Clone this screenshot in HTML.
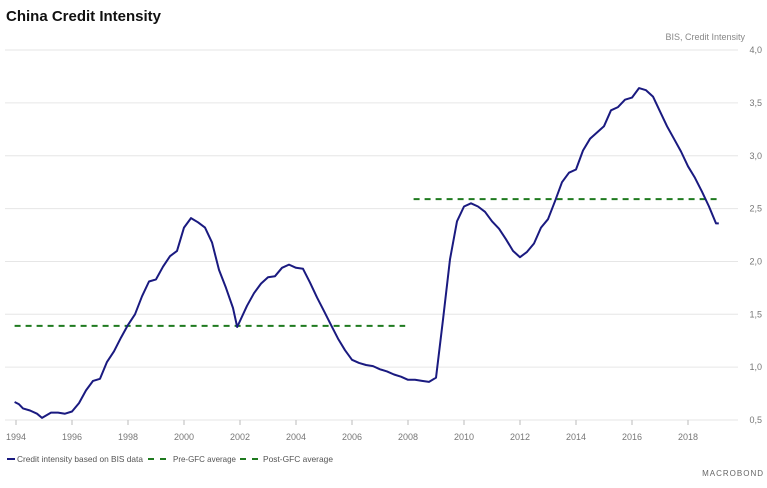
<!DOCTYPE html>
<html><head><meta charset="utf-8">
<style>
body{margin:0;background:#fff;width:767px;height:488px;overflow:hidden;font-family:"Liberation Sans",sans-serif;}
svg{display:block}
</style></head>
<body>
<svg id="chart" width="767" height="488">
<text x="6" y="21" font-size="15" font-weight="bold" fill="#111">China Credit Intensity</text>
<text x="745" y="40" font-size="9" fill="#888" text-anchor="end">BIS, Credit Intensity</text>
<g id="grid"></g><g id="yticks"></g><g id="xticks"></g><g id="avgs"></g><g id="series"></g>
<g>
<line x1="7" y1="459" x2="15" y2="459" stroke="#1a1a80" stroke-width="2"/>
<text x="17" y="462" font-size="8.5" fill="#555" textLength="126" lengthAdjust="spacingAndGlyphs">Credit intensity based on BIS data</text>
<line x1="148" y1="459" x2="171" y2="459" stroke="#1f7a1f" stroke-width="2" stroke-dasharray="6,6"/>
<text x="173" y="462" font-size="8.5" fill="#555" textLength="63" lengthAdjust="spacingAndGlyphs">Pre-GFC average</text>
<line x1="240" y1="459" x2="261" y2="459" stroke="#1f7a1f" stroke-width="2" stroke-dasharray="6,6"/>
<text x="263" y="462" font-size="8.5" fill="#555" textLength="70" lengthAdjust="spacingAndGlyphs">Post-GFC average</text>
</g>
<text x="764" y="476" font-size="8" fill="#666" text-anchor="end" letter-spacing="1">MACROBOND</text>
</svg>
<script>
const years=[1993.95,1994.1,1994.25,1994.5,1994.75,1994.93,1995.25,1995.5,1995.75,1996,1996.25,1996.5,1996.75,1997,1997.25,1997.5,1997.75,1998,1998.25,1998.5,1998.75,1999,1999.25,1999.5,1999.75,2000,2000.25,2000.5,2000.75,2001,2001.25,2001.5,2001.75,2001.9,2002.25,2002.5,2002.75,2003,2003.25,2003.5,2003.75,2004,2004.25,2004.5,2004.75,2005,2005.25,2005.5,2005.75,2006,2006.25,2006.5,2006.75,2007,2007.25,2007.5,2007.75,2008,2008.25,2008.5,2008.75,2009,2009.25,2009.5,2009.75,2010,2010.25,2010.5,2010.75,2011,2011.25,2011.5,2011.75,2012,2012.25,2012.5,2012.75,2013,2013.25,2013.5,2013.75,2014,2014.25,2014.5,2014.75,2015,2015.25,2015.5,2015.75,2016,2016.25,2016.5,2016.75,2017,2017.25,2017.5,2017.75,2018,2018.25,2018.5,2018.75,2019,2019.1];
const values=[0.67,0.65,0.61,0.59,0.56,0.52,0.57,0.57,0.56,0.58,0.66,0.78,0.87,0.89,1.05,1.15,1.28,1.40,1.50,1.67,1.81,1.83,1.95,2.05,2.10,2.32,2.41,2.37,2.32,2.18,1.92,1.75,1.56,1.38,1.58,1.70,1.79,1.85,1.86,1.94,1.97,1.94,1.93,1.80,1.66,1.53,1.40,1.27,1.16,1.07,1.04,1.02,1.01,0.98,0.96,0.93,0.91,0.88,0.88,0.87,0.86,0.90,1.45,2.02,2.38,2.52,2.55,2.52,2.47,2.38,2.31,2.21,2.10,2.04,2.09,2.17,2.32,2.40,2.57,2.75,2.84,2.87,3.05,3.16,3.22,3.28,3.43,3.46,3.53,3.55,3.64,3.62,3.56,3.42,3.28,3.16,3.04,2.90,2.79,2.66,2.52,2.36,2.36];
const preGfc=[1993.95,2007.9,1.39];
const postGfc=[2008.2,2019.1,2.59];
const yTicks=[0.5,1.0,1.5,2.0,2.5,3.0,3.5,4.0];
const xTicks=[1994,1996,1998,2000,2002,2004,2006,2008,2010,2012,2014,2016,2018];
const NS="http://www.w3.org/2000/svg";
function X(yr){return 16+(yr-1994)*28.0;}
function Y(v){return 420-(v-0.5)*105.7;}
function mk(tag,attrs,parent){const e=document.createElementNS(NS,tag);for(const k in attrs)e.setAttribute(k,attrs[k]);document.getElementById(parent).appendChild(e);return e;}
yTicks.forEach(t=>{
  const l=mk('line',{x1:5,x2:738,y1:Y(t),y2:Y(t),stroke:'#e6e6e6','stroke-width':1},'grid');
  
  
  const tx=mk('text',{x:762,y:Y(t)+3,'font-size':9,fill:'#777','text-anchor':'end'},'yticks');
  tx.textContent=t.toFixed(1).replace('.',',');
  
  
});
xTicks.forEach(t=>{
  const l=mk('line',{x1:X(t),x2:X(t),y1:420,y2:425,stroke:'#bbb'},'xticks');
  
  
  const tx=mk('text',{x:X(t),y:440,'font-size':9,fill:'#777','text-anchor':'middle'},'xticks');
  tx.textContent=t;
  
  
});
[preGfc,postGfc].forEach((a,i)=>{
  const l=mk('line',{x1:X(a[0]),x2:X(a[1]),y1:Y(a[2]),y2:Y(a[2]),stroke:'#1f7a1f','stroke-width':2,'stroke-dasharray':'6,5'},'avgs');
  
  
});
const p=mk('polyline',{points:years.map((y,i)=>X(y).toFixed(1)+','+Y(values[i]).toFixed(1)).join(' '),fill:'none',stroke:'#1a1a80','stroke-width':2,'stroke-linejoin':'round'},'series');


</script>
</body></html>
